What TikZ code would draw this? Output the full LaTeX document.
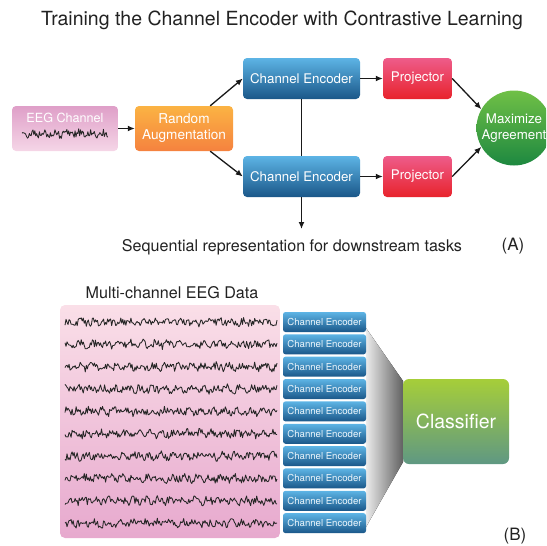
\documentclass[tikz,border=0pt]{standalone}
\usepackage{fontspec}
\setmainfont{TeX Gyre Heros}
\usetikzlibrary{calc,arrows.meta}
\definecolor{eegTop}{HTML}{DF9FC8}
\definecolor{eegBot}{HTML}{F5D6E7}
\definecolor{augTop}{HTML}{FBB343}
\definecolor{augBot}{HTML}{F5823F}
\definecolor{encTop}{HTML}{5DB4E5}
\definecolor{encBot}{HTML}{1A5789}
\definecolor{prjTop}{HTML}{EE5C8A}
\definecolor{prjBot}{HTML}{E8232C}
\definecolor{agrTop}{HTML}{70C046}
\definecolor{agrBot}{HTML}{1D8840}
\definecolor{datTop}{HTML}{FADFE8}
\definecolor{datBot}{HTML}{E7A9CE}
\definecolor{clsTop}{HTML}{A6CE39}
\definecolor{clsBot}{HTML}{5F9883}
\definecolor{txt}{HTML}{222222}
\tikzset{
  box/.style={rounded corners=4pt, text=white, align=center, inner sep=0pt},
  bigenc/.style={box, top color=encTop, bottom color=encBot, minimum width=117, minimum height=41, font=\fontsize{13.3}{15}\selectfont},
  smallenc/.style={box, rounded corners=2.5pt, top color=encTop, bottom color=encBot, minimum width=83, minimum height=20, text=white!88!encTop, font=\fontsize{9.6}{11}\selectfont},
  proj/.style={box, top color=prjTop, bottom color=prjBot, minimum width=69, minimum height=41, font=\fontsize{13.3}{15}\selectfont},
  conn/.style={-{Latex[length=7pt,width=6pt]}, line width=1.3pt, black!90},
  eeg/.style={line width=0.85pt, black!85, line join=round},
}
\begin{document}
\begin{tikzpicture}[x=1pt, y=-1pt, font=\fontsize{16.1}{18}\selectfont]
    \useasboundingbox (0,0) rectangle (546,546);
    \clip (0,0) rectangle (546,546);
    \pgfmathsetseed{11}
    % (A) contrastive training
    \node[txt, font=\fontsize{19.5}{22}\selectfont] (title) at (282,20) {Training the Channel Encoder with Contrastive Learning};
    \node[box, top color=eegTop, bottom color=eegBot, minimum width=106, minimum height=45] (eeg) at (65,128.5) {};
    \node[white, font=\fontsize{12.6}{14}\selectfont] (eegname) at (65,117.5) {EEG Channel};
    \draw[eeg] plot[domain=22:108, samples=95] (\x, {134+3.8*rand+1.6*sin(\x*31)});
    \node[box, top color=augTop, bottom color=augBot, minimum width=98, minimum height=45, font=\fontsize{13.6}{16}\selectfont] (aug) at (184,128.5) {Random\\Augmentation};
    \node[bigenc] (encA) at (301.5,78.5) {Channel Encoder};
    \node[bigenc] (encB) at (301.5,176.5) {Channel Encoder};
    \node[proj] (prjA) at (417.5,78.5) {Projector};
    \node[proj] (prjB) at (417.5,176.5) {Projector};
    \node[circle, minimum size=75, inner sep=0pt, top color=agrTop, bottom color=agrBot, text=white, align=center, font=\fontsize{13.3}{15.5}\selectfont] (agree) at (514,128) {Maximize\\Agreement};
    \coordinate (down) at (301.5,229);
    \draw[conn] (eeg) -- (aug);
    \draw[conn] ($(aug.north east)+(-23,0)$) -- (encA.west);
    \draw[conn] ($(aug.south east)+(-23,0)$) -- (encB.west);
    \draw[conn] (encA) -- (prjA);
    \draw[conn] (encB) -- (prjB);
    \draw[conn] (prjA.east) -- (agree.150);
    \draw[conn] (prjB.east) -- (agree.210);
    \draw[line width=1.3pt, black!90] (encA.south) -- (encB.north);
    \draw[conn] (encB.south) -- (down);
    \node[txt] (seq) at (292,247) {Sequential representation for downstream tasks};
    \node[txt, font=\fontsize{17}{19}\selectfont] (labA) at (513,246) {(A)};
    % (B) classification
    \node[txt] (multi) at (172,293) {Multi-channel EEG Data};
    \draw[rounded corners=5pt, top color=datTop, bottom color=datBot, draw=none] (60,305) rectangle (280,538);
    \fill[left color=white!92!black, right color=black!62] (366,328) -- (403,381) -- (403,462) -- (366,527) -- cycle;
    \foreach \i in {1,...,10} {
      \pgfmathsetmacro{\yy}{322+22.35*(\i-1)}
      \draw[eeg] plot[domain=65:277, samples=210] (\x, {\yy+3.8*rand+1.5*sin(\x*29+\i*40)});
      \node[smallenc] (enc\i) at (324.5,\yy) {Channel Encoder};
    }
    \node[box, rounded corners=6pt, top color=clsTop, bottom color=clsBot, minimum width=106, minimum height=85, font=\fontsize{19.5}{22}\selectfont] (cls) at (456,421.5) {Classifier};
    \node[txt, font=\fontsize{17}{19}\selectfont] (labB) at (515,536) {(B)};
\end{tikzpicture}
\end{document}
